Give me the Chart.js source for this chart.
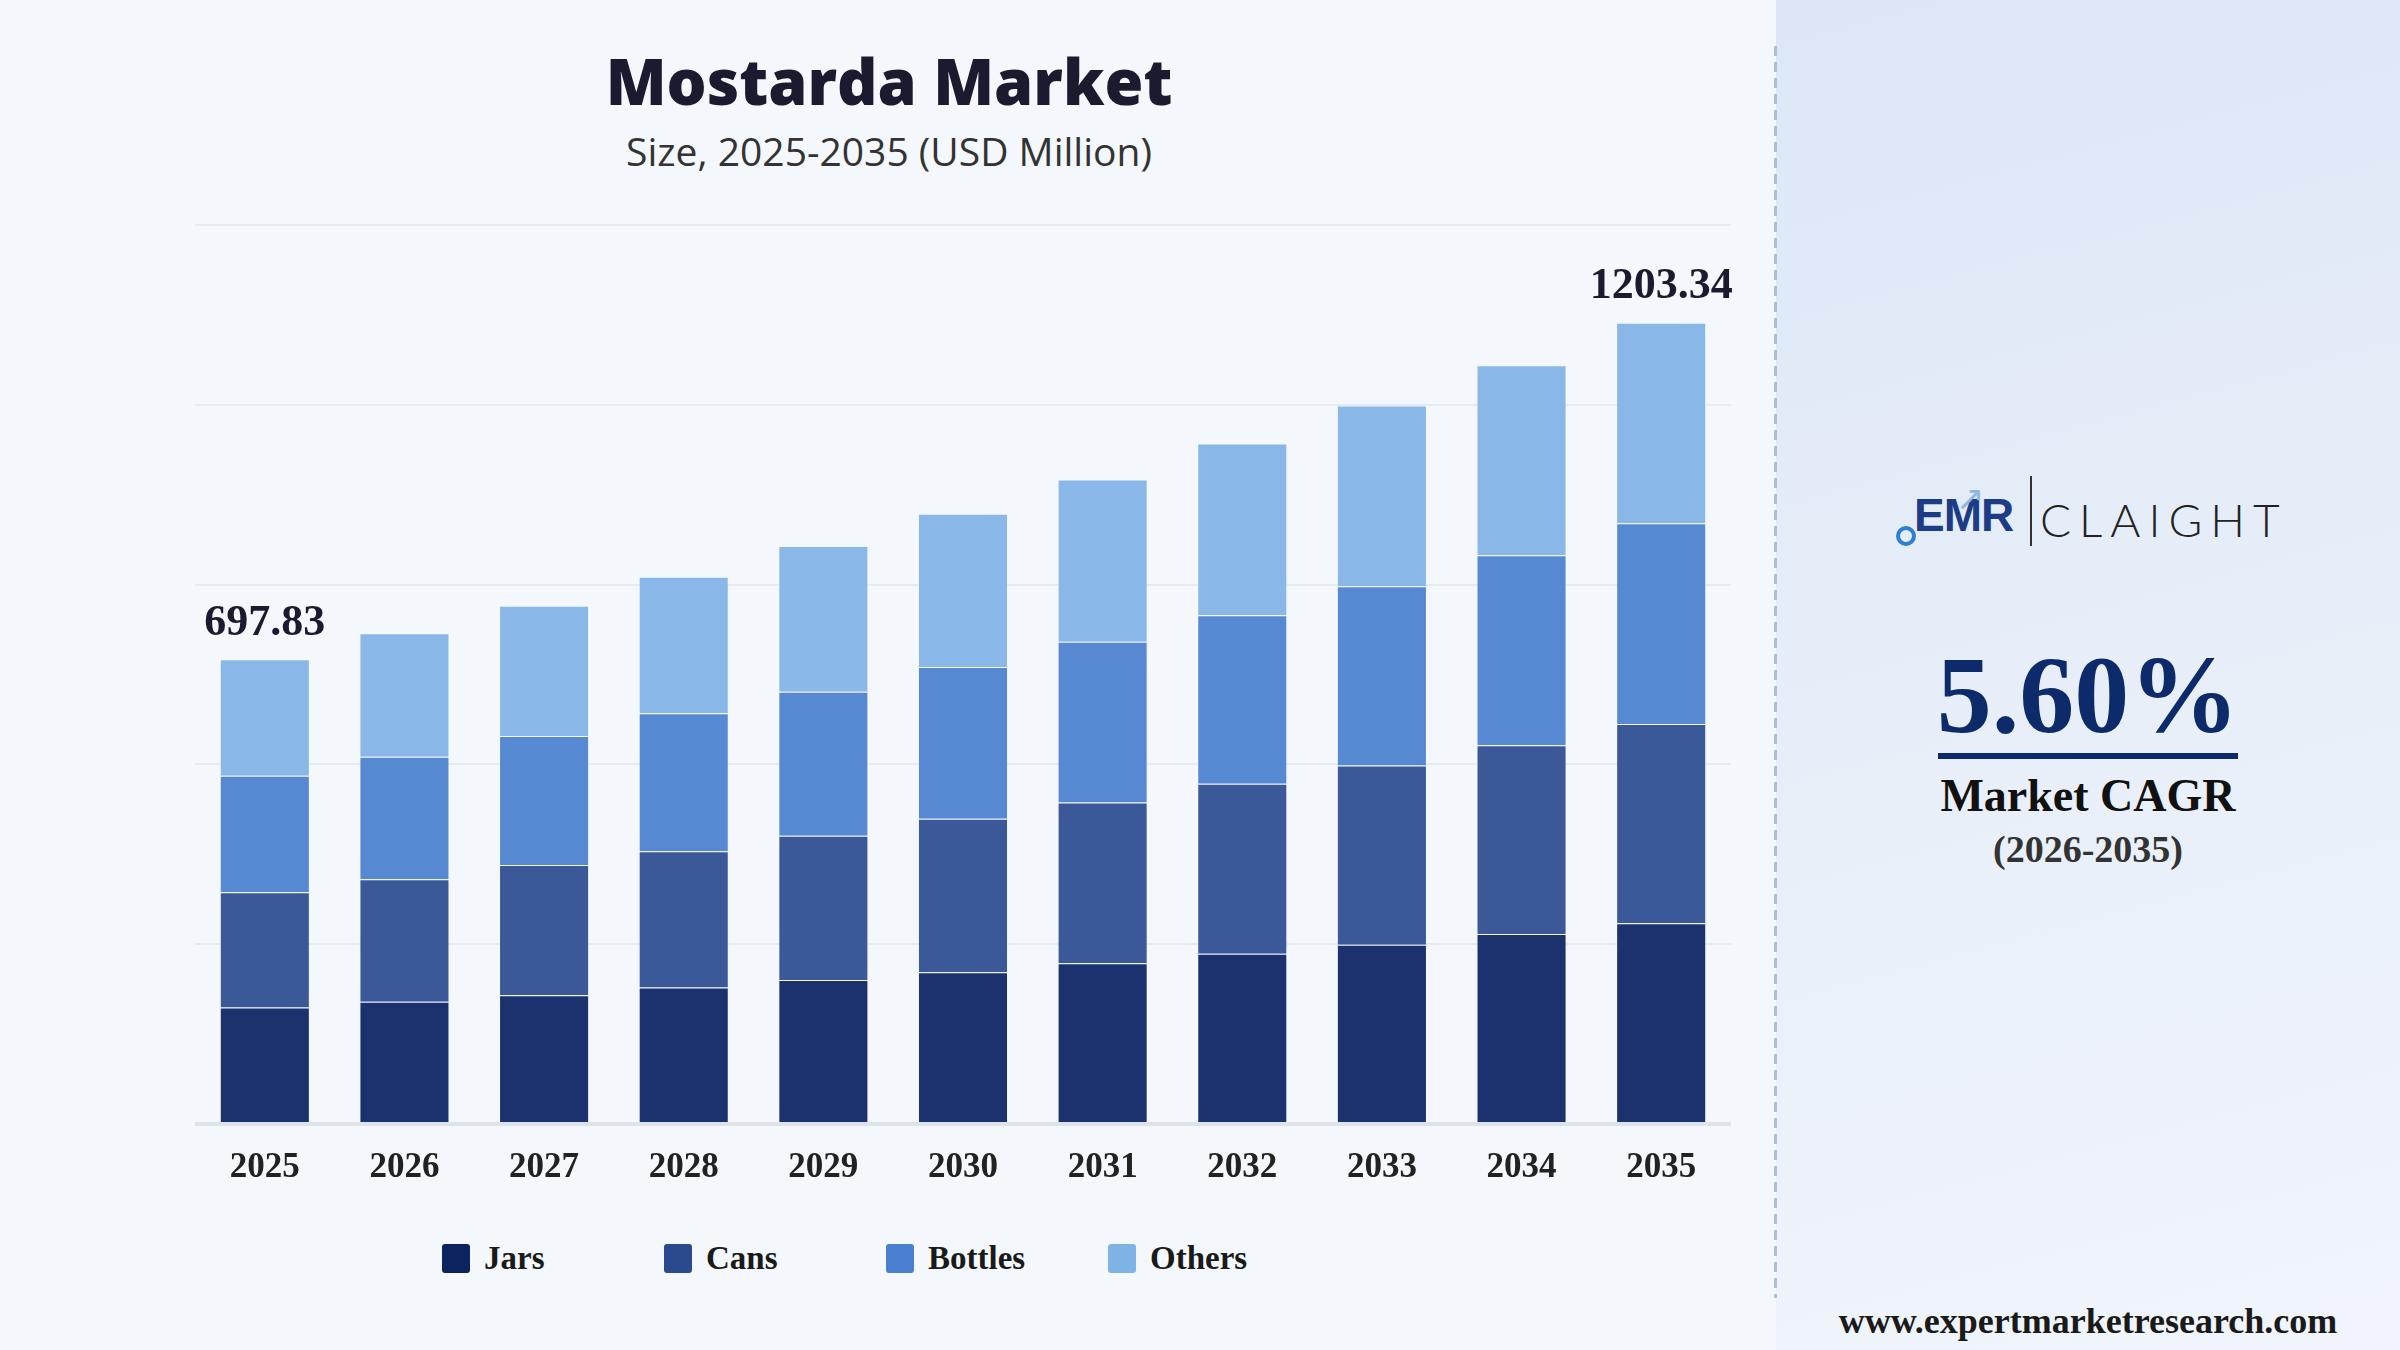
<!DOCTYPE html>
<html>
<head>
<meta charset="utf-8">
<script src="https://cdn.jsdelivr.net/npm/chart.js@4"></script>
<style>
  html, body { margin: 0; padding: 0; }
  body { width: 2400px; height: 1350px; background: #f4f8fc; position: relative; overflow: hidden; font-family: "Liberation Serif", serif; }
  #chartBox { position: absolute; left: 0; top: 0; width: 1775px; height: 1220px; }
  #title { position: absolute; left: 889px; top: 49px; transform: translateX(-50%); font-family: "Open Sans", sans-serif; font-weight: 800; font-size: 63px; line-height: 1; color: #1b1a2e; white-space: nowrap; }
  #subtitle { position: absolute; left: 889px; top: 131px; transform: translateX(-50%); font-family: "Open Sans", sans-serif; font-size: 39px; line-height: 1; color: #333; white-space: nowrap; }
  #legend { position: absolute; left: 442px; top: 1240px; display: flex; }
  .item { width: 222px; display: flex; align-items: center; font-weight: bold; font-size: 33px; color: #1a1a1a; }
  .swatch { width: 28px; height: 29px; border-radius: 3px; margin-right: 14px; }
  #panel { position: absolute; left: 1776px; top: 0; width: 624px; height: 1350px; background: linear-gradient(165deg, #dce6f6 0%, #e8eff9 55%, #f1f5fb 100%); }
  #dash { position: absolute; left: 1774px; top: 46px; width: 3px; height: 1252px; background: repeating-linear-gradient(to bottom, #a9bfdc 0 10px, transparent 10px 16px); }
  #logo { position: absolute; left: 1896px; top: 474px; width: 400px; height: 80px; }
  #ring { position: absolute; left: 0; top: 52px; width: 12px; height: 12px; border: 4px solid #2f7fd0; border-radius: 50%; }
  #emr { position: absolute; left: 18px; top: 14px; font-family: "Liberation Sans Narrow", "Liberation Sans", sans-serif; font-weight: bold; font-size: 46px; letter-spacing: -1px; color: #1d3c86; }
  #arrow { position: absolute; left: 60px; top: 4px; font-family: "DejaVu Sans", sans-serif; font-size: 34px; color: #8fb7e2; }
  #divider { position: absolute; left: 134px; top: 2px; width: 2px; height: 70px; background: #333; }
  #claight { position: absolute; left: 144px; top: 18px; font-family: "Lato", sans-serif; font-weight: 300; font-size: 46px; letter-spacing: 8px; color: #222; }
  #cagr { position: absolute; left: 2088px; top: 640px; transform: translateX(-50%); font-weight: bold; font-size: 110px; line-height: 1; color: #0d2a6b; white-space: nowrap; }
  #rule { position: absolute; left: 1938px; top: 753px; width: 300px; height: 6px; background: #0d2a6b; }
  #cagrLabel { position: absolute; left: 2088px; top: 773px; transform: translateX(-50%); font-weight: bold; font-size: 46px; line-height: 1; color: #111; white-space: nowrap; }
  #period { position: absolute; left: 2088px; top: 830px; transform: translateX(-50%); font-weight: bold; font-size: 38px; line-height: 1; color: #333; white-space: nowrap; }
  #site { position: absolute; left: 2088px; top: 1303px; transform: translateX(-50%); font-weight: bold; font-size: 36px; line-height: 1; color: #1a1a1a; white-space: nowrap; }
</style>
</head>
<body>
<div id="panel"></div>
<div id="dash"></div>
<div id="title">Mostarda Market</div>
<div id="subtitle">Size, 2025-2035 (USD Million)</div>
<div id="chartBox"><canvas id="marketChart"></canvas></div>
<div id="legend"></div>
<div id="logo">
  <div id="ring"></div>
  <div id="emr">EMR</div>
  <div id="arrow">↗</div>
  <div id="divider"></div>
  <div id="claight">CLAIGHT</div>
</div>
<div id="cagr">5.60%</div>
<div id="rule"></div>
<div id="cagrLabel">Market CAGR</div>
<div id="period">(2026-2035)</div>
<div id="site">www.expertmarketresearch.com</div>

<script>
const years = ['2025', '2026', '2027', '2028', '2029', '2030', '2031', '2032', '2033', '2034', '2035'];
const seriesNames = ['Jars', 'Cans', 'Bottles', 'Others'];
const jars = [174.9, 183.6, 193.5, 204.9, 216.4, 228.0, 241.3, 255.5, 269.2, 285.4, 301.5];
const cans = [173.1, 183.9, 195.5, 204.8, 216.3, 230.2, 241.4, 255.4, 269.2, 283.2, 299.1];
const bottles = [174.8, 184.0, 193.6, 207.2, 216.4, 227.9, 241.4, 253.2, 269.2, 285.5, 301.4];
const others = [175.03, 185.4, 195.6, 204.9, 218.7, 230.3, 243.6, 257.8, 271.5, 285.4, 301.34];
const totalLabels = { 0: '697.83', 10: '1203.34' };

const barColors = ['#1b326e', '#3b5898', '#5789d2', '#89b7e8'];
const legendColors = ['#0b235e', '#2b4a8e', '#4a80cf', '#7fb3e6'];

// legend with fixed-width items, like the original
const legendEl = document.getElementById('legend');
seriesNames.forEach((name, i) => {
  const item = document.createElement('div');
  item.className = 'item';
  item.innerHTML = `<span class="swatch" style="background:${legendColors[i]}"></span>${name}`;
  legendEl.appendChild(item);
});

// totals above the first and last bars
const totalsPlugin = {
  id: 'totals',
  afterDatasetsDraw(chart) {
    const ctx = chart.ctx;
    const x = chart.scales.x;
    const y = chart.scales.y;
    ctx.save();
    ctx.font = 'bold 44px "Liberation Serif"';
    ctx.fillStyle = '#1b1a2e';
    ctx.textAlign = 'center';
    ctx.textBaseline = 'bottom';
    Object.keys(totalLabels).forEach(k => {
      const i = parseInt(k);
      const sum = jars[i] + cans[i] + bottles[i] + others[i];
      ctx.fillText(totalLabels[k], x.getPixelForValue(i), y.getPixelForValue(sum) - 14);
    });
    ctx.restore();
  }
};

const seriesData = [jars, cans, bottles, others];
const ctx = document.getElementById('marketChart').getContext('2d');
new Chart(ctx, {
  type: 'bar',
  data: {
    labels: years,
    datasets: seriesNames.map((name, i) => ({
      label: name,
      data: seriesData[i],
      backgroundColor: barColors[i],
      borderColor: 'rgba(255,255,255,0.14)',
      borderWidth: { top: 1, left: 1, right: 1, bottom: 0 },
      borderSkipped: false,
      categoryPercentage: 1,
      barPercentage: 0.645
    }))
  },
  options: {
    responsive: true,
    maintainAspectRatio: false,
    animation: false,
    layout: { padding: { left: 195, right: 44, top: 225, bottom: 16 } },
    plugins: {
      legend: { display: false },
      tooltip: { enabled: false }
    },
    scales: {
      x: {
        stacked: true,
        grid: { display: false },
        border: { display: false },
        ticks: {
          color: '#222',
          padding: 15,
          font: { family: 'Liberation Serif', weight: 'bold', size: 35 }
        }
      },
      y: {
        stacked: true,
        min: 0,
        max: 1350,
        border: { display: false },
        ticks: { display: false, stepSize: 270 },
        grid: {
          drawTicks: false,
          color: c => c.tick.value === 0 ? '#dde3ea' : '#e6ebf0',
          lineWidth: c => c.tick.value === 0 ? 4 : 2
        }
      }
    }
  },
  plugins: [totalsPlugin]
});
</script>
</body>
</html>
